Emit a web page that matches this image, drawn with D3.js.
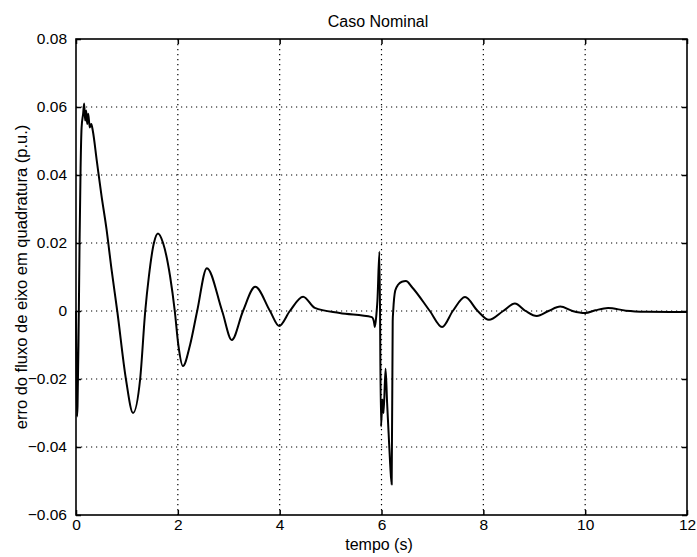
<!DOCTYPE html>
<html>
<head>
<meta charset="utf-8">
<script src="https://cdn.jsdelivr.net/npm/d3@7"></script>
<style>
  html, body { margin: 0; padding: 0; background: #fff; }
  svg text { font-family: "Liberation Sans", Arial, Helvetica, sans-serif; fill: #000; }
</style>
</head>
<body>
<svg id="chart" width="697" height="557"></svg>
<script>
// ---- data ----
const title = "Caso Nominal";
const xLabel = "tempo (s)";
const yLabel = "erro do fluxo de eixo em quadratura (p.u.)";
const xTicks = [0, 2, 4, 6, 8, 10, 12];
const yTicks = [-0.06, -0.04, -0.02, 0, 0.02, 0.04, 0.06, 0.08];

const tempo = [
  0, 0.01, 0.02, 0.03, 0.05, 0.07, 0.09, 0.11, 0.14, 0.16, 0.18, 0.20, 0.22, 0.24, 0.27, 0.30, 0.33,
  0.41, 0.50, 0.60, 0.70, 0.81, 0.98, 1.12, 1.26, 1.36, 1.43, 1.53, 1.61, 1.71, 1.85, 1.94,
  2.01, 2.10, 2.24, 2.38, 2.57, 2.87, 3.06, 3.28, 3.52, 3.81, 3.99, 4.20, 4.46, 4.69, 5.18,
  5.81, 5.85, 5.87, 5.90, 5.92, 5.96, 5.99, 6.02, 6.04, 6.08, 6.11, 6.14, 6.17, 6.20, 6.22,
  6.23, 6.27, 6.33, 6.40, 6.48, 6.60, 6.95, 7.19, 7.40, 7.64, 7.89, 8.11, 8.39, 8.62, 8.83,
  9.05, 9.28, 9.51, 9.75, 10.00, 10.20, 10.45, 10.80, 11.20, 12.00
];
const erro = [
  0.0, -0.018, -0.031, -0.028, -0.008, 0.020, 0.042, 0.054, 0.058, 0.061, 0.056, 0.059, 0.055, 0.058, 0.054, 0.055, 0.053,
  0.044, 0.034, 0.024, 0.012, 0.0, -0.020, -0.030, -0.020, 0.0, 0.010, 0.020, 0.0228, 0.020, 0.010, 0.0,
  -0.010, -0.0162, -0.010, 0.0, 0.0126, 0.0, -0.0085, 0.0, 0.0071, 0.0, -0.0044, 0.0, 0.0042, 0.0009, -0.0006,
  -0.0018, -0.0030, -0.0047, -0.0010, 0.0030, 0.0174, -0.034, -0.026, -0.030, -0.017, -0.027, -0.036, -0.045, -0.051, -0.003,
  0.0, 0.0060, 0.0078, 0.0086, 0.0088, 0.0070, 0.0, -0.0047, 0.0, 0.0041, 0.0, -0.0026, 0.0, 0.0022, 0.0,
  -0.0015, 0.0, 0.0013, 0.0, -0.0006, 0.0002, 0.0009, 0.0001, -0.0002, -0.0003
];

// ---- layout ----
const svg = d3.select("#chart");
const mLeft = 76, mRight = 687, mTop = 39, mBottom = 515;
const x = d3.scaleLinear().domain([0, 12]).range([mLeft, mRight]);
const y = d3.scaleLinear().domain([-0.06, 0.08]).range([mBottom, mTop]);
const fmt = d => (d === 0 ? "0" : d3.format(".2f")(d));
const tickFont = 15.5;
const labelFont = 16.5;

// grid (dotted)
const grid = svg.append("g").attr("stroke", "#000").attr("stroke-width", 1.2)
  .attr("stroke-dasharray", "1.2,3.8");
grid.selectAll("line.gx").data(xTicks.filter(d => d > 0 && d < 12)).join("line")
  .attr("x1", d => x(d)).attr("x2", d => x(d)).attr("y1", mTop).attr("y2", mBottom);
grid.selectAll("line.gy").data(yTicks.filter(d => d > -0.06 && d < 0.08)).join("line")
  .attr("y1", d => y(d)).attr("y2", d => y(d)).attr("x1", mLeft).attr("x2", mRight);

// axes with inward ticks
const axB = svg.append("g").attr("transform", `translate(0,${mBottom})`)
  .call(d3.axisBottom(x).tickValues(xTicks).tickFormat(d => d).tickSizeInner(-5).tickSizeOuter(0).tickPadding(4));
const axT = svg.append("g").attr("transform", `translate(0,${mTop})`)
  .call(d3.axisTop(x).tickValues(xTicks).tickFormat("").tickSizeInner(-5).tickSizeOuter(0));
const axL = svg.append("g").attr("transform", `translate(${mLeft},0)`)
  .call(d3.axisLeft(y).tickValues(yTicks).tickFormat(fmt).tickSizeInner(-5).tickSizeOuter(0).tickPadding(9));
const axR = svg.append("g").attr("transform", `translate(${mRight},0)`)
  .call(d3.axisRight(y).tickValues(yTicks).tickFormat("").tickSizeInner(-5).tickSizeOuter(0));
[axB, axT, axL, axR].forEach(a => {
  a.select(".domain").remove();
  a.selectAll(".tick line").attr("stroke", "#000").attr("stroke-width", 1.5);
  a.selectAll(".tick text").attr("font-size", tickFont)
    .attr("font-family", '"Liberation Sans", Arial, sans-serif');
});

// frame
svg.append("rect").attr("x", mLeft).attr("y", mTop)
  .attr("width", mRight - mLeft).attr("height", mBottom - mTop)
  .attr("fill", "none").attr("stroke", "#000").attr("stroke-width", 1.6);

// series
const pts = tempo.map((t, i) => [t, erro[i]]);
const line = d3.line().x(d => x(d[0])).y(d => y(d[1])).curve(d3.curveMonotoneX);
svg.append("path").datum(pts).attr("d", line)
  .attr("fill", "none").attr("stroke", "#000").attr("stroke-width", 2)
  .attr("stroke-linejoin", "round");

// labels
svg.append("text").attr("x", 378).attr("y", 27)
  .attr("text-anchor", "middle").attr("font-size", 16).text(title);
svg.append("text").attr("x", 379).attr("y", 550)
  .attr("text-anchor", "middle").attr("font-size", 16).text(xLabel);
svg.append("text").attr("transform", `translate(27,${(mTop + mBottom) / 2}) rotate(-90)`)
  .attr("text-anchor", "middle").attr("font-size", labelFont).text(yLabel);
</script>
</body>
</html>
